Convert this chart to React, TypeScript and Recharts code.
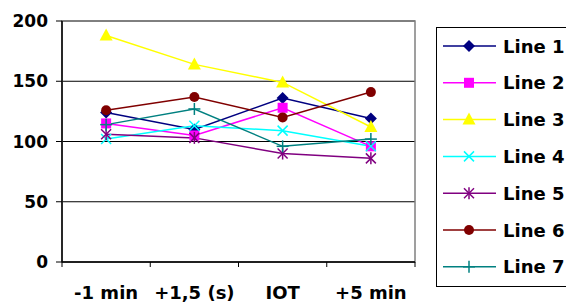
import React from "react";
import {
  LineChart,
  Line,
  XAxis,
  YAxis,
  CartesianGrid,
  ReferenceArea,
} from "recharts";

const categories = ["-1 min", "+1,5 (s)", "IOT", "+5 min"];
const line1 = [124, 110, 136, 119];
const line2 = [115, 105, 128, 96];
const line3 = [188, 164, 149, 112];
const line4 = [102, 113, 109, 96];
const line5 = [106, 103, 90, 86];
const line6 = [126, 137, 120, 141];
const line7 = [114, 127, 96, 102];
const yTicks = [0, 50, 100, 150, 200];

const seriesList = [
  { key: "Line 1", values: line1, color: "#000080", shape: "diamond" },
  { key: "Line 2", values: line2, color: "#FF00FF", shape: "square" },
  { key: "Line 3", values: line3, color: "#FFFF00", shape: "triangle" },
  { key: "Line 4", values: line4, color: "#00FFFF", shape: "x" },
  { key: "Line 5", values: line5, color: "#800080", shape: "star" },
  { key: "Line 6", values: line6, color: "#800000", shape: "circle" },
  { key: "Line 7", values: line7, color: "#008080", shape: "plus" },
];

const data = categories.map((c, i) => {
  const row: any = { name: c };
  seriesList.forEach((s) => {
    row[s.key] = s.values[i];
  });
  return row;
});

const FONT = "'DejaVu Sans', 'Liberation Sans', Arial, sans-serif";

function Marker({ shape, cx, cy, color }: any) {
  if (cx == null || cy == null) return <g />;
  switch (shape) {
    case "diamond":
      return (
        <polygon
          points={`${cx},${cy - 6} ${cx + 6},${cy} ${cx},${cy + 6} ${cx - 6},${cy}`}
          fill={color}
        />
      );
    case "square":
      return <rect x={cx - 5} y={cy - 5} width={10} height={10} fill={color} />;
    case "triangle":
      return (
        <polygon
          points={`${cx},${cy - 7} ${cx + 6.5},${cy + 5} ${cx - 6.5},${cy + 5}`}
          fill={color}
        />
      );
    case "x":
      return (
        <g stroke={color} strokeWidth={1.5}>
          <line x1={cx - 5} y1={cy - 5} x2={cx + 5} y2={cy + 5} />
          <line x1={cx - 5} y1={cy + 5} x2={cx + 5} y2={cy - 5} />
        </g>
      );
    case "star":
      return (
        <g stroke={color} strokeWidth={1.5}>
          <line x1={cx - 5} y1={cy - 5} x2={cx + 5} y2={cy + 5} />
          <line x1={cx - 5} y1={cy + 5} x2={cx + 5} y2={cy - 5} />
          <line x1={cx} y1={cy - 6} x2={cx} y2={cy + 6} />
        </g>
      );
    case "circle":
      return <circle cx={cx} cy={cy} r={5} fill={color} />;
    case "plus":
      return (
        <g stroke={color} strokeWidth={1.5}>
          <line x1={cx - 6} y1={cy} x2={cx + 6} y2={cy} />
          <line x1={cx} y1={cy - 6} x2={cx} y2={cy + 6} />
        </g>
      );
    default:
      return <g />;
  }
}

function XTick(props: any) {
  const { x, y, payload, index, visibleTicksCount } = props;
  const off = payload && payload.offset ? payload.offset : 0;
  const isLast = index === (visibleTicksCount ?? categories.length) - 1;
  return (
    <g>
      <line x1={x - off} y1={y} x2={x - off} y2={y + 5} stroke="#000" />
      {isLast && <line x1={x + off} y1={y} x2={x + off} y2={y + 5} stroke="#000" />}
      <text
        x={x}
        y={y + 37}
        textAnchor="middle"
        fontFamily={FONT}
        fontWeight="bold"
        fontSize={18}
        fill="#000"
      >
        {payload.value}
      </text>
    </g>
  );
}

function LegendBox() {
  return (
    <svg
      width={140}
      height={270}
      style={{ position: "absolute", left: 430, top: 20, overflow: "visible" }}
    >
      <rect x={6.5} y={7.5} width={200} height={259} fill="#fff" stroke="#000" strokeWidth={1} />
      {seriesList.map((s, i) => {
        const cy = 26 + i * 36.8;
        return (
          <g key={s.key}>
            <line x1={13} y1={cy} x2={66} y2={cy} stroke={s.color} strokeWidth={1.5} />
            <Marker shape={s.shape} cx={39} cy={cy} color={s.color} />
            <text
              x={73}
              y={cy + 6.5}
              fontFamily={FONT}
              fontWeight="bold"
              fontSize={18}
              fill="#000"
            >
              {s.key}
            </text>
          </g>
        );
      })}
    </svg>
  );
}

export default function App() {
  return (
    <div
      style={{
        position: "absolute",
        left: 0,
        top: 0,
        width: 566,
        height: 302,
        background: "#fff",
        overflow: "hidden",
      }}
    >
      <LineChart
        width={566}
        height={302}
        data={data}
        margin={{ top: 21, right: 151, bottom: 0, left: 0 }}
      >
        <CartesianGrid vertical={false} stroke="#000" strokeWidth={1} />
        <ReferenceArea
          y1={0}
          y2={200}
          fill="none"
          fillOpacity={0}
          stroke="#808080"
          strokeWidth={1.5}
          ifOverflow="visible"
        />
        <XAxis
          dataKey="name"
          scale="band"
          height={40}
          axisLine={{ stroke: "#000", strokeWidth: 1.5 }}
          tickLine={false}
          tickSize={0}
          tickMargin={0}
          interval={0}
          tick={<XTick />}
        />
        <YAxis
          width={62}
          domain={[0, 200]}
          ticks={yTicks}
          interval={0}
          axisLine={{ stroke: "#000", strokeWidth: 1.5 }}
          tickLine={{ stroke: "#000" }}
          tickSize={6}
          tickMargin={8}
          tick={{ fill: "#000", fontFamily: FONT, fontWeight: "bold", fontSize: 17 }}
        />
        {seriesList.map((s) => (
          <Line
            key={s.key}
            type="linear"
            dataKey={s.key}
            stroke={s.color}
            strokeWidth={1.5}
            isAnimationActive={false}
            dot={(p: any) => (
              <Marker key={`${s.key}-${p.index}`} shape={s.shape} cx={p.cx} cy={p.cy} color={s.color} />
            )}
            activeDot={false}
          />
        ))}
      </LineChart>
      <LegendBox />
    </div>
  );
}
